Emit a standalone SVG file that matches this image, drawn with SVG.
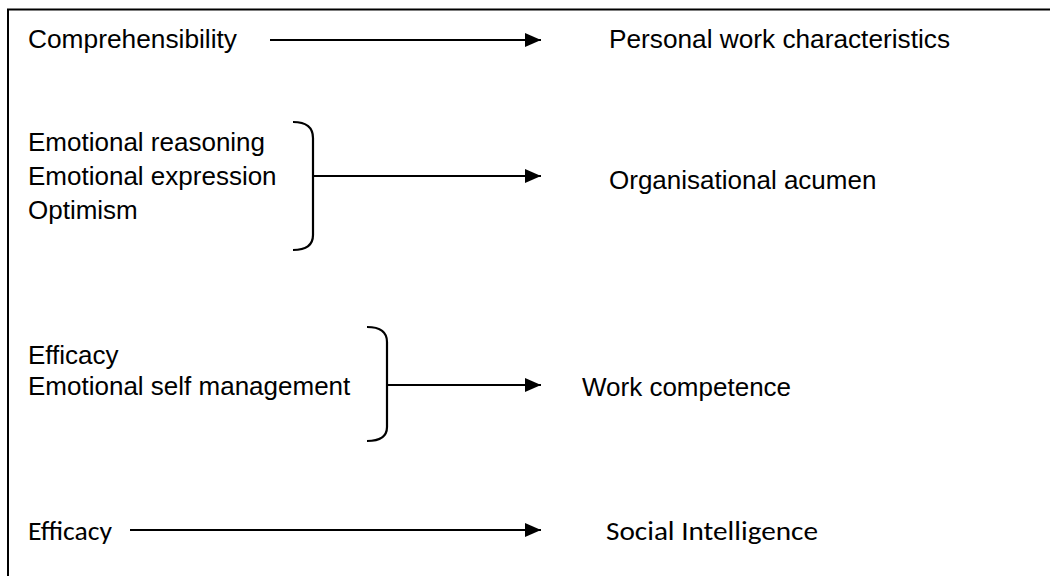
<svg xmlns="http://www.w3.org/2000/svg" width="1050" height="576" viewBox="0 0 1050 576">
<style>
.t{font-family:"Liberation Sans",Arial,sans-serif;font-size:26px;fill:#000}
.c{font-family:"Carlito",Lato,"Liberation Sans",sans-serif;font-size:27px;fill:#000}
.ln{stroke:#000;stroke-width:2.2;fill:none}
.br{stroke:#000;stroke-width:2.2;fill:none}
</style>
<defs>
<marker id="ah" markerWidth="16" markerHeight="14" refX="16" refY="7" orient="auto" markerUnits="userSpaceOnUse">
<polygon points="0,0 16,7 0,14" fill="#000"/>
</marker>
</defs>
<rect width="1050" height="576" fill="#fff"/>
<g id="frame">
<path d="M8,576 L8,9.5 L1050,9.5" fill="none" stroke="#000" stroke-width="2"/>
</g>
<g id="n-comprehensibility"><text class="t" x="28" y="48" textLength="209" lengthAdjust="spacingAndGlyphs">Comprehensibility</text></g>
<g id="n-personal"><text class="t" x="609" y="48" textLength="341" lengthAdjust="spacingAndGlyphs">Personal work characteristics</text></g>
<g id="n-group1">
<text class="t" x="28" y="151">Emotional reasoning</text>
<text class="t" x="28" y="185">Emotional expression</text>
<text class="t" x="28" y="219">Optimism</text>
<path class="br" d="M293,122 Q313,122 313,138 L313,235 Q313,250 293,250"/>
</g>
<g id="n-organisational"><text class="t" x="609" y="189">Organisational acumen</text></g>
<g id="n-group2">
<text class="t" x="28" y="364">Efficacy</text>
<text class="t" x="28" y="395">Emotional self management</text>
<path class="br" d="M367,327 Q387,327 387,342 L387,427 Q387,441 367,441"/>
</g>
<g id="n-work"><text class="t" x="582" y="396">Work competence</text></g>
<g id="n-efficacy"><text class="c" x="28" y="540" textLength="84" lengthAdjust="spacingAndGlyphs">Efficacy</text></g>
<g id="n-social"><text class="c" x="606" y="540" textLength="212" lengthAdjust="spacingAndGlyphs">Social Intelligence</text></g>
<g id="connectors">
<line class="ln" x1="270" y1="40" x2="541" y2="40" marker-end="url(#ah)"/>
<line class="ln" x1="313" y1="176" x2="541" y2="176" marker-end="url(#ah)"/>
<line class="ln" x1="387" y1="385" x2="541" y2="385" marker-end="url(#ah)"/>
<line class="ln" x1="130" y1="530" x2="541" y2="530" marker-end="url(#ah)"/>
</g>
</svg>
